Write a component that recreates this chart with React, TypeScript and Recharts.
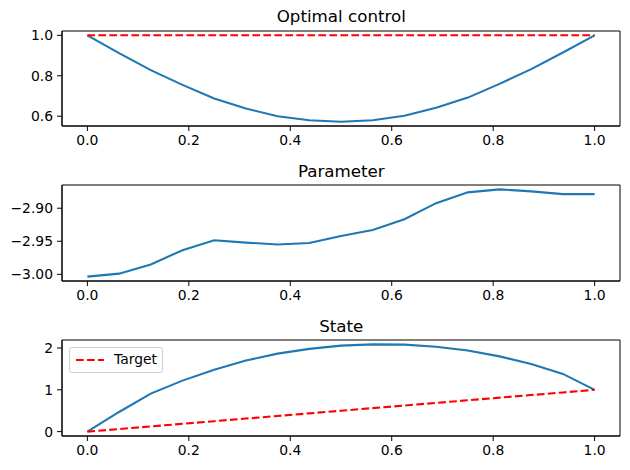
import React from 'react';
import {
  LineChart,
  Line,
  XAxis,
  YAxis,
  ReferenceArea,
  Legend,
} from 'recharts';

const FONT = 'DejaVu Sans, Liberation Sans, sans-serif';
const BLUE = '#1f77b4';
const RED = '#ff0000';

// time grid (17 nodes)
const tGrid = [
  0, 0.0625, 0.125, 0.1875, 0.25, 0.3125, 0.375, 0.4375, 0.5,
  0.5625, 0.625, 0.6875, 0.75, 0.8125, 0.875, 0.9375, 1,
];

const controlValues = [
  1.0, 0.912, 0.828, 0.755, 0.688, 0.638, 0.6, 0.58, 0.573,
  0.58, 0.602, 0.642, 0.692, 0.76, 0.833, 0.915, 1.0,
];
const controlReference = [1, 1, 1, 1, 1, 1, 1, 1, 1, 1, 1, 1, 1, 1, 1, 1, 1];

const parameterValues = [
  -3.0035, -2.999, -2.985, -2.9635, -2.9485, -2.952, -2.9548, -2.9527, -2.942,
  -2.933, -2.9167, -2.8924, -2.876, -2.8715, -2.8746, -2.8787, -2.8787,
];

const stateValues = [
  0, 0.47, 0.91, 1.22, 1.48, 1.7, 1.865, 1.98, 2.056,
  2.087, 2.08, 2.03, 1.94, 1.8, 1.62, 1.38, 1.0,
];
const targetValues = [
  0, 0.0625, 0.125, 0.1875, 0.25, 0.3125, 0.375, 0.4375, 0.5,
  0.5625, 0.625, 0.6875, 0.75, 0.8125, 0.875, 0.9375, 1,
];

const xTicks = [0, 0.2, 0.4, 0.6, 0.8, 1.0];
const controlTicks = [0.6, 0.8, 1.0];
const parameterTicks = [-3.0, -2.95, -2.9];
const stateTicks = [0, 1, 2];

const X_DOMAIN: [number, number] = [-0.05, 1.05];

// 5% autoscale margin, like matplotlib
function padded(...series: number[][]): [number, number] {
  const all = series.flat();
  const lo = Math.min(...all);
  const hi = Math.max(...all);
  const m = (hi - lo) * 0.05;
  return [lo - m, hi + m];
}

const controlData = tGrid.map((t, i) => ({ t, u: controlValues[i], ref: controlReference[i] }));
const parameterData = tGrid.map((t, i) => ({ t, p: parameterValues[i] }));
const stateData = tGrid.map((t, i) => ({ t, y: stateValues[i], target: targetValues[i] }));

const tickStyle = { fill: '#000', fontSize: 13.9, fontFamily: FONT };
const minus = (s: string) => s.replace('-', '\u2212');

const W = 630;
const H = 155;
const DASH = '7.7 3.3';

function Panel({
  data,
  domain,
  yTicks,
  yFormat,
  marginTop,
  children,
}: {
  data: Record<string, number>[];
  domain: [number, number];
  yTicks: number[];
  yFormat: (v: number) => string;
  marginTop: number;
  children: React.ReactNode;
}) {
  return (
    <LineChart width={W} height={H} data={data} margin={{ top: marginTop, right: 10, bottom: 0, left: 0 }}>
      <XAxis
        dataKey="t"
        type="number"
        domain={X_DOMAIN}
        ticks={xTicks}
        allowDataOverflow
        tickFormatter={(v: number) => v.toFixed(1)}
        tick={tickStyle}
        tickSize={5}
        tickMargin={4}
        height={29}
        stroke="#000"
        interval={0}
      />
      <YAxis
        type="number"
        domain={domain}
        ticks={yTicks}
        allowDataOverflow
        tickFormatter={yFormat}
        tick={tickStyle}
        tickSize={5}
        tickMargin={4}
        width={62}
        stroke="#000"
        interval={0}
      />
      <ReferenceArea
        x1={X_DOMAIN[0]}
        x2={X_DOMAIN[1]}
        y1={domain[0]}
        y2={domain[1]}
        fill="none"
        stroke="#000"
        strokeWidth={1}
        ifOverflow="visible"
      />
      {children}
    </LineChart>
  );
}

function TargetLegend() {
  return (
    <div
      style={{
        width: 92,
        height: 24,
        border: '1px solid #d0d0d0',
        borderRadius: 3,
        background: 'rgba(255,255,255,0.8)',
        position: 'relative',
        fontFamily: FONT,
        fontSize: 13.9,
      }}
    >
      <svg width={40} height={24} style={{ position: 'absolute', left: 0, top: 0 }}>
        <line x1={6} y1={12} x2={34} y2={12} stroke={RED} strokeWidth={2.1} strokeDasharray={DASH} />
      </svg>
      <span style={{ position: 'absolute', left: 44, top: 3, lineHeight: '16px', color: '#000' }}>Target</span>
    </div>
  );
}

export default function App() {
  const controlDomain = padded(controlValues, controlReference);
  const parameterDomain = padded(parameterValues);
  const stateDomain = padded(stateValues, targetValues);

  const titles = [
    { text: 'Optimal control', y: 22.4 },
    { text: 'Parameter', y: 177 },
    { text: 'State', y: 332 },
  ];

  return (
    <div style={{ position: 'absolute', left: 0, top: 0, width: W, height: 470, background: '#fff', fontFamily: FONT }}>
      <div style={{ position: 'absolute', left: 0, top: 0 }}>
        <Panel data={controlData} domain={controlDomain} yTicks={controlTicks} yFormat={(v) => v.toFixed(1)} marginTop={31}>
          <Line dataKey="u" stroke={BLUE} strokeWidth={2.1} dot={false} isAnimationActive={false} />
          <Line dataKey="ref" stroke={RED} strokeWidth={2.1} strokeDasharray={DASH} dot={false} isAnimationActive={false} />
        </Panel>
      </div>
      <div style={{ position: 'absolute', left: 0, top: 155 }}>
        <Panel data={parameterData} domain={parameterDomain} yTicks={parameterTicks} yFormat={(v) => minus(v.toFixed(2))} marginTop={30}>
          <Line dataKey="p" stroke={BLUE} strokeWidth={2.1} dot={false} isAnimationActive={false} />
        </Panel>
      </div>
      <div style={{ position: 'absolute', left: 0, top: 310 }}>
        <Panel data={stateData} domain={stateDomain} yTicks={stateTicks} yFormat={(v) => String(v)} marginTop={30}>
          <Line dataKey="y" stroke={BLUE} strokeWidth={2.1} dot={false} legendType="none" isAnimationActive={false} />
          <Line dataKey="target" name="Target" stroke={RED} strokeWidth={2.1} strokeDasharray={DASH} dot={false} isAnimationActive={false} />
          <Legend
            layout="vertical"
            align="center"
            verticalAlign="middle"
            content={() => <TargetLegend />}
            wrapperStyle={{ position: 'absolute', left: 69, top: 37, width: 'auto', height: 'auto' }}
          />
        </Panel>
      </div>
      <svg width={W} height={470} style={{ position: 'absolute', left: 0, top: 0, pointerEvents: 'none' }}>
        {titles.map((t) => (
          <text key={t.text} x={341.3} y={t.y} textAnchor="middle" fontFamily={FONT} fontSize={16.7} fill="#000">
            {t.text}
          </text>
        ))}
      </svg>
    </div>
  );
}
